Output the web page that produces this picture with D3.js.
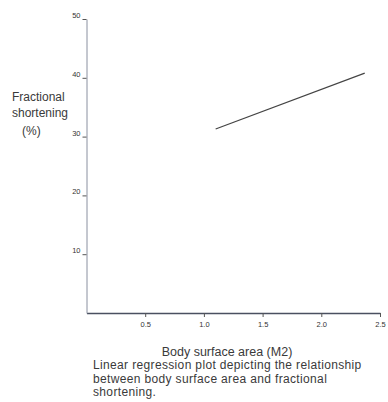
<!DOCTYPE html>
<html lang="en">
<head>
<meta charset="UTF-8">
<title>Fractional shortening vs BSA</title>
<script src="https://d3js.org/d3.v7.min.js"></script>
<style>
  body { margin: 0; background: #fff; }
  svg text { font-family: "Liberation Sans", Arial, sans-serif; fill: #3a3a3a; }
  .tick text { font-size: 7.5px; fill: #333; }
</style>
</head>
<body>
<script>
// Data
const xTicks = [0.5, 1.0, 1.5, 2.0, 2.5];
const yTicks = [10, 20, 30, 40, 50];
const bsa = [1.1, 2.37];          // body surface area (m2) at line ends
const fs = [31.3, 40.8];          // fractional shortening (%) at line ends
const captionLines = [
  "Linear regression plot depicting the relationship",
  "between body surface area and fractional",
  "shortening."
];

const w = 388, h = 402;
const svg = d3.select("body").append("svg")
  .attr("width", w).attr("height", h);

const x = d3.scaleLinear().domain([0, 2.5]).range([86.5, 380]);
const y = d3.scaleLinear().domain([0, 50]).range([313, 19]);

// x axis
const gx = svg.append("g").attr("transform", `translate(0,${y(0)})`)
  .call(d3.axisBottom(x).tickValues(xTicks).tickSize(4).tickSizeOuter(0).tickPadding(5)
    .tickFormat(d3.format(".1f")));
gx.select(".domain").attr("stroke", "#4a5060").attr("stroke-width", 1.3);
gx.selectAll(".tick line").attr("stroke", "#555");

// y axis
const gy = svg.append("g").attr("transform", `translate(${x(0)},0)`)
  .call(d3.axisLeft(y).tickValues(yTicks).tickSize(4).tickSizeOuter(0).tickPadding(2));
gy.select(".domain").attr("stroke", "#8a90a0").attr("stroke-width", 1);
gy.selectAll(".tick line").attr("stroke", "#555");
gy.selectAll(".tick text").attr("dy", "-0.2em");

// regression line
const pts = bsa.map((b, i) => [b, fs[i]]);
svg.append("path")
  .datum(pts)
  .attr("fill", "none")
  .attr("stroke", "#444")
  .attr("stroke-width", 1.2)
  .attr("d", d3.line().x(d => x(d[0])).y(d => y(d[1])));

// y label
const yl = svg.append("text").attr("font-size", 12);
yl.append("tspan").attr("x", 12).attr("y", 101).text("Fractional");
yl.append("tspan").attr("x", 12).attr("y", 117).text("shortening");
yl.append("tspan").attr("x", 22).attr("y", 135).text("(%)");

// x label
svg.append("text")
  .attr("x", 227).attr("y", 356)
  .attr("text-anchor", "middle")
  .attr("font-size", 12.5)
  .text("Body surface area (M2)");

// caption
svg.append("g").selectAll("text")
  .data(captionLines)
  .join("text")
  .attr("x", 93)
  .attr("y", (d, i) => 369 + i * 13.5)
  .attr("font-size", 12)
  .attr("letter-spacing", 0.35)
  .text(d => d);
</script>
</body>
</html>
